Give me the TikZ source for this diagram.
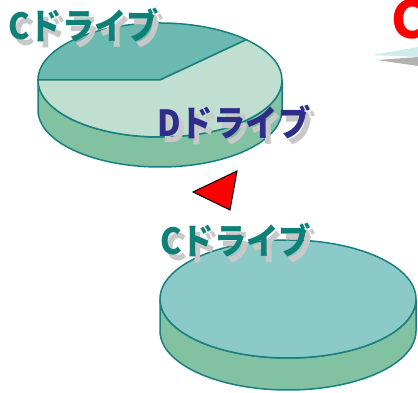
\documentclass[tikz,border=0pt]{standalone}
\usepackage{fontspec}
\newfontfamily\jpfont{Noto Sans CJK JP}
\definecolor{rim}{HTML}{1A7F7F}
\definecolor{sliceC}{HTML}{6BB9B1}
\definecolor{sliceD}{HTML}{C0DFD0}
\definecolor{side}{HTML}{82C2A2}
\definecolor{topface}{HTML}{8CCACA}
\definecolor{txtC}{HTML}{0F8078}
\definecolor{txtD}{HTML}{2E2E8A}
\definecolor{shade}{HTML}{C8C8C8}
\definecolor{wedge}{HTML}{CFEBEB}
\tikzset{
  disk/.style={draw=rim, line width=1.5pt},
  drive/.style={anchor=base west, inner sep=0pt, xscale=0.9, font=\jpfont\bfseries\fontsize{36}{36}\selectfont},
  driveshadow/.style={drive, text=shade}
}
\begin{document}
\begin{tikzpicture}[x=1pt, y=1pt]
    \useasboundingbox (0,0) rectangle (418,393);
    \clip (0,0) rectangle (418,393);
    % upper disk, split into two drives
    \fill[side, disk] (38,313) -- (38,283) arc[start angle=180, end angle=360, x radius=122, y radius=57]
        -- (282,313) arc[start angle=360, end angle=180, x radius=122, y radius=57];
    \fill[sliceC, disk] (160,313) -- (38,313) arc[start angle=180, end angle=45, x radius=122, y radius=57] -- cycle;
    \fill[sliceD, disk] (160,313) -- (38,313) arc[start angle=180, end angle=405, x radius=122, y radius=57] -- cycle;
    % lower disk, one drive
    \fill[side, disk] (160,94) -- (160,62) arc[start angle=180, end angle=360, x radius=128, y radius=59]
        -- (416,94) arc[start angle=360, end angle=180, x radius=128, y radius=59];
    \fill[topface, disk] (288,94) ellipse (128 and 59);
    % arrow head
    \fill[red, draw=black, line width=1pt] (193,201) -- (237,222) -- (230,183) -- cycle;
    % callout at top right
    \fill[shade!70!gray] (377,333) -- (418,336) -- (418,327) -- cycle;
    \fill[wedge] (372,338) -- (418,346) -- (418,336) -- cycle;
    \node[anchor=base west, inner sep=0pt, text=red, font=\jpfont\bfseries\fontsize{52}{52}\selectfont] (title) at (391,354) {C};
    % labels
    \node[driveshadow] (upCs) at (13,347) {Cドライブ};
    \node[drive, text=txtC] (upC) at (8,353) {Cドライブ};
    \node[driveshadow] (upDs) at (162,250) {Dドライブ};
    \node[drive, text=txtD] (upD) at (157,256) {Dドライブ};
    \node[driveshadow] (lowCs) at (165,132) {Cドライブ};
    \node[drive, text=txtC] (lowC) at (160,138) {Cドライブ};
\end{tikzpicture}
\end{document}
